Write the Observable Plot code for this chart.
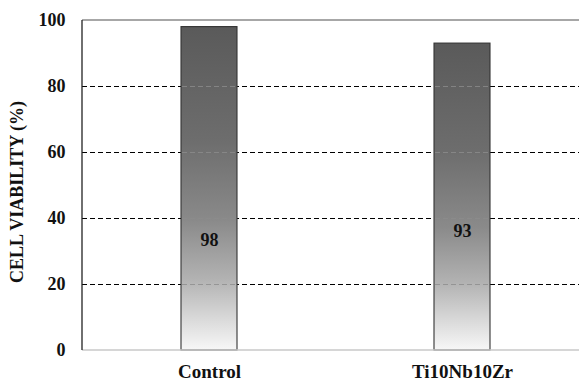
<!DOCTYPE html>
<html>
<head>
<meta charset="utf-8">
<script src="https://cdn.jsdelivr.net/npm/d3@7"></script>
<script src="https://cdn.jsdelivr.net/npm/@observablehq/plot@0.6"></script>
<style>
  html, body { margin: 0; padding: 0; background: #fff; overflow: hidden; }
  #chart svg { display: block; }
</style>
</head>
<body>
<div id="chart"></div>
<script>
// Cell viability of each sample (%)
const samples = ["Control", "Ti10Nb10Zr"];
const viability = [98, 93];
const yTicks = [0, 20, 40, 60, 80, 100];
const gridTicks = [20, 40, 60, 80];

const rows = samples.map((s, i) => ({sample: s, value: viability[i]}));

// grid segments that cross each bar
const crossings = rows.flatMap(r =>
  gridTicks.filter(t => t < r.value).map(t => ({sample: r.sample, level: t}))
);

// height (in axis units) at which each value label sits inside its bar
const labelAt = [33.3, 36];

const serif = "Liberation Serif, Times New Roman, serif";

const chart = Plot.plot({
  width: 579,
  height: 382,
  marginTop: 20,
  marginBottom: 32,
  marginLeft: 82,
  marginRight: -10,
  style: {fontFamily: serif, fontWeight: "bold", background: "#fff", color: "#111"},
  x: {domain: samples, paddingInner: 0.779, paddingOuter: 0.39},
  y: {domain: [0, 100]},
  marks: [
    // dashed grid behind the bars
    Plot.ruleY(gridTicks, {stroke: "#000", strokeWidth: 1.1, strokeDasharray: "5,3"}),
    Plot.barY(rows, {
      x: "sample", y: "value",
      fill: "url(#barShade)", stroke: "#333", strokeWidth: 1.1
    }),
    // grid showing faintly across the bars
    Plot.tickY(crossings, {
      x: "sample", y: "level", inset: 1,
      stroke: "#8c8c8c", strokeOpacity: 0.8, strokeWidth: 1.1, strokeDasharray: "5,3"
    }),
    // value labels
    Plot.text(rows, {
      x: "sample", y: (d, i) => labelAt[i], text: d => String(d.value),
      fontSize: 18, fontWeight: "bold", fontFamily: serif, fill: "#111"
    }),
    Plot.axisY({
      ticks: yTicks, tickSize: 0, tickPadding: 17, label: null,
      fontSize: 18, fontWeight: "bold", fontFamily: serif, fill: "#111"
    }),
    Plot.axisX({
      tickSize: 0, tickPadding: 14, label: null,
      fontSize: 19, fontWeight: "bold", fontFamily: serif, fill: "#111"
    })
  ]
});

const svg = d3.select(chart);
const ys = chart.scale("y");
const yTop = ys.apply(100), yBase = ys.apply(0);
const xLeft = 82, xRight = 579;

// vertical gradient for the bars: dark grey at top fading to near white
const defs = svg.insert("defs", ":first-child");
const grad = defs.append("linearGradient")
  .attr("id", "barShade")
  .attr("x1", 0).attr("y1", 0).attr("x2", 0).attr("y2", 1);
[
  [0, "#5a5a5a"],
  [0.35, "#6d6d6d"],
  [0.6, "#8a8a8a"],
  [0.78, "#b2b2b2"],
  [0.9, "#d8d8d8"],
  [1, "#f7f7f7"]
].forEach(([o, c]) => grad.append("stop").attr("offset", o).attr("stop-color", c));

// plot frame: grey top edge, light base line, dark left axis line
svg.append("line")
  .attr("x1", xLeft).attr("x2", xRight).attr("y1", yTop).attr("y2", yTop)
  .attr("stroke", "#8a8a8a").attr("stroke-width", 1.3);
svg.append("line")
  .attr("x1", xLeft).attr("x2", xRight).attr("y1", yBase).attr("y2", yBase)
  .attr("stroke", "#c8c8c8").attr("stroke-width", 1.3);
svg.append("line")
  .attr("x1", xLeft).attr("x2", xLeft).attr("y1", yTop).attr("y2", yBase)
  .attr("stroke", "#222").attr("stroke-width", 1.3);

// y axis title
svg.append("text")
  .attr("transform", "translate(23,192) rotate(-90)")
  .attr("text-anchor", "middle")
  .attr("font-family", serif)
  .attr("font-weight", "bold")
  .attr("font-size", 18)
  .attr("fill", "#111")
  .text("CELL VIABILITY (%)");

document.getElementById("chart").appendChild(chart);
</script>
</body>
</html>
